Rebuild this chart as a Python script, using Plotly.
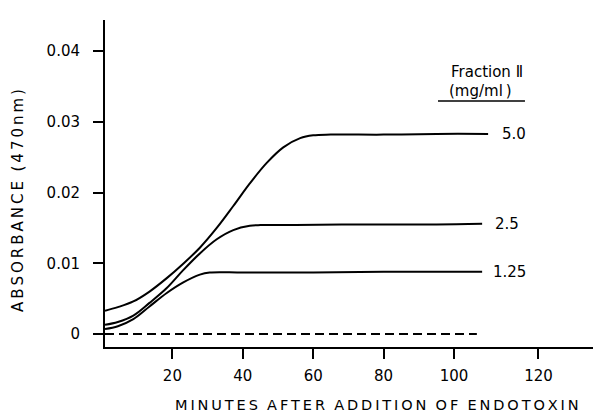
import plotly.graph_objects as go

# ---- data ----
t_50 = [0.85, 4.5, 8.9, 13.5, 18.4, 23, 27.8, 32.6, 37.3, 42, 46.8, 51.5, 56.3, 60, 65, 80, 95, 109.7]
a_50 = [0.0033, 0.0038, 0.0046, 0.0060, 0.0079, 0.0099, 0.0122, 0.0150, 0.0181, 0.0213, 0.0242, 0.0264, 0.0277, 0.0281, 0.0282, 0.0282, 0.0283, 0.0283]

t_25 = [0.85, 4.5, 8.9, 13.5, 18.4, 23, 27.8, 32.6, 37.3, 42, 45, 55, 75, 95, 108]
a_25 = [0.0013, 0.0017, 0.0026, 0.0044, 0.0065, 0.0090, 0.0114, 0.0134, 0.0147, 0.0153, 0.0154, 0.0154, 0.0155, 0.0155, 0.0156]

t_125 = [0.85, 4.5, 8.9, 13.5, 18.4, 23.1, 27.8, 30.6, 40, 60, 80, 108]
a_125 = [0.0007, 0.0011, 0.0021, 0.0039, 0.0058, 0.0073, 0.0084, 0.0087, 0.0087, 0.0087, 0.0088, 0.0088]

t_ctrl = [0.85, 106.5]
a_ctrl = [0.0, 0.0]

series_labels = ["5.0", "2.5", "1.25"]
x_tick_vals = [20, 40, 60, 80, 100, 124]
x_tick_text = ["20", "40", "60", "80", "100", "120"]
y_tick_vals = [0, 0.01, 0.02, 0.03, 0.04]
y_tick_text = ["0", "0.01", "0.02", "0.03", "0.04"]

FONT = "DejaVu Sans"
TS = "\u2009"  # thin space for letter spacing


def spaced(s):
    return "  ".join(TS.join(w) for w in s.split(" "))


fig = go.Figure()
line = dict(color="black", width=2, shape="spline", smoothing=1.0)
for t, a in [(t_50, a_50), (t_25, a_25), (t_125, a_125)]:
    fig.add_trace(go.Scatter(x=t, y=a, mode="lines", line=line, showlegend=False, hoverinfo="skip"))
fig.add_trace(go.Scatter(x=t_ctrl, y=a_ctrl, mode="lines",
                         line=dict(color="black", width=2, dash="9px,5px"),
                         showlegend=False, hoverinfo="skip"))

# end-of-line labels
label_pos = [(113.1, a_50[-1]), (111.1, a_25[-1]), (110.6, a_125[-1])]
for (x, y), txt in zip(label_pos, series_labels):
    fig.add_annotation(x=x, y=y, text=txt, showarrow=False, xanchor="left", yanchor="middle",
                       font=dict(family=FONT, size=15, color="black"))

# legend header
fig.add_annotation(x=(487 - 102) / 3.52, y=(334 - 72) / 7070, text="Fraction \u2161", showarrow=False,
                   font=dict(family=FONT, size=15, color="black"))
fig.add_annotation(x=(481 - 102) / 3.52, y=(334 - 91) / 7070, text="(mg/ml\u2009)", showarrow=False,
                   font=dict(family=FONT, size=15, color="black"))
fig.add_shape(type="line", x0=(438 - 102) / 3.52, x1=(525 - 102) / 3.52,
              y0=(334 - 101) / 7070, y1=(334 - 101) / 7070, line=dict(color="black", width=1.5))

# axis titles
fig.add_annotation(xref="paper", yref="paper", x=(377 - 105) / 488, y=-(405 - 347) / 327,
                   xanchor="center", yanchor="middle",
                   text=spaced("MINUTES AFTER ADDITION OF ENDOTOXIN"),
                   showarrow=False, font=dict(family=FONT, size=14.5, color="black"))
fig.add_annotation(xref="paper", yref="paper", x=(18 - 105) / 488, y=(334 - 188) / 327,
                   xanchor="center", yanchor="middle", textangle=-90,
                   text=spaced("ABSORBANCE (470nm)"), showarrow=False,
                   font=dict(family=FONT, size=15, color="black"))

fig.update_layout(
    width=593, height=414,
    margin=dict(l=105, r=0, t=20, b=67),
    paper_bgcolor="white", plot_bgcolor="white",
    xaxis=dict(range=[0.85, 139.5], showgrid=False, zeroline=False, showline=True,
               linecolor="black", linewidth=2, ticks="outside", ticklen=10, tickwidth=2,
               tickcolor="black", tickvals=x_tick_vals, ticktext=x_tick_text,
               ticklabelstandoff=4,
               tickfont=dict(family=FONT, size=15, color="black")),
    yaxis=dict(range=[-0.00184, 0.04441], showgrid=False, zeroline=False, showline=True,
               linecolor="black", linewidth=2, ticks="outside", ticklen=10, tickwidth=2,
               tickcolor="black", tickvals=y_tick_vals, ticktext=y_tick_text,
               ticklabelstandoff=10,
               tickfont=dict(family=FONT, size=15, color="black")),
)
fig.write_html("out.html")
